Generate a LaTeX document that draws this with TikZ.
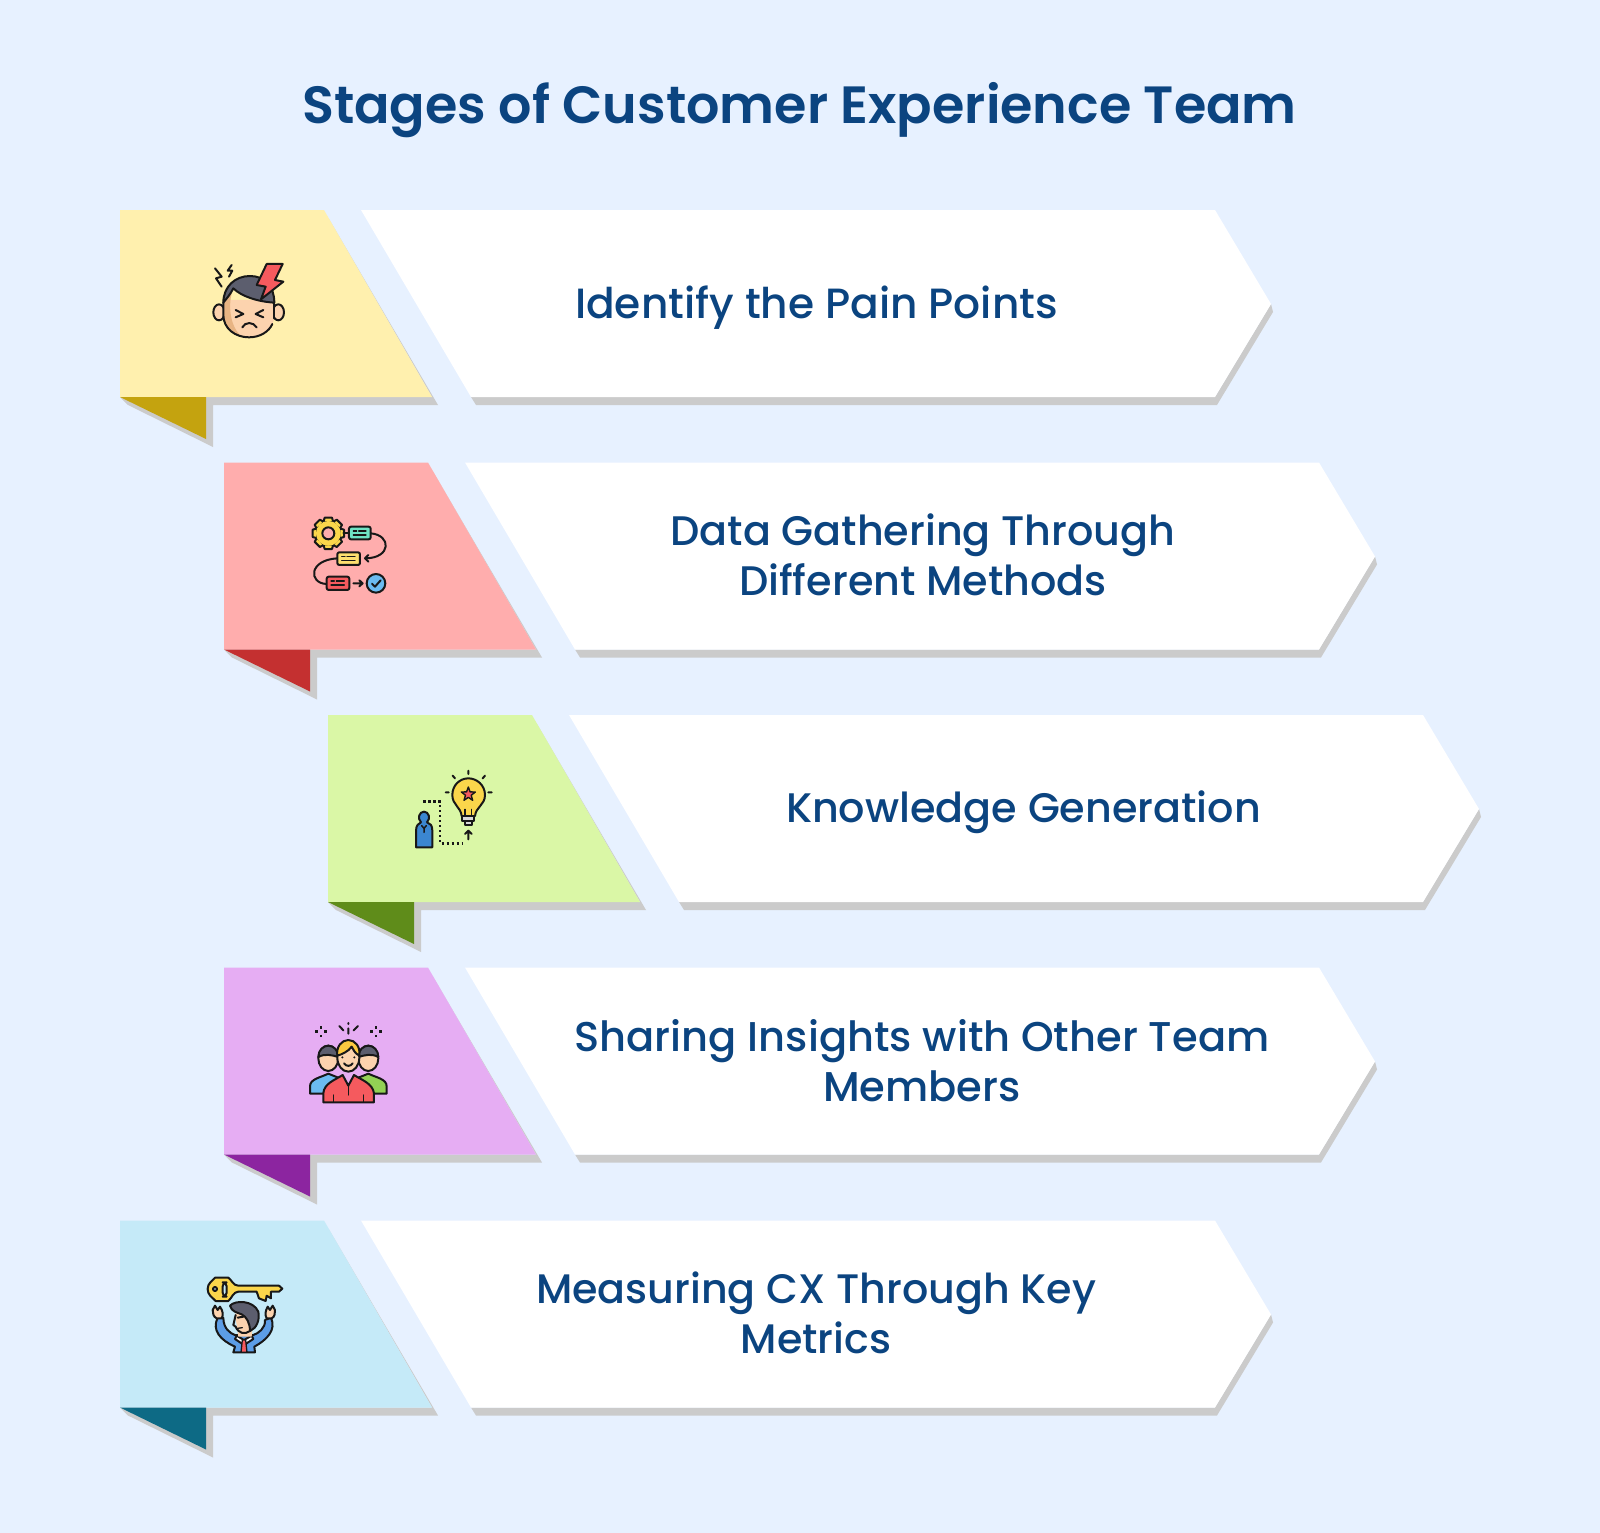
\documentclass[tikz,border=0pt]{standalone}
\usepackage{fontspec}
\newfontfamily\titlef{Poppins}[UprightFont=*-SemiBold]
\newfontfamily\bodyf{Poppins}[UprightFont=*-Medium]
\definecolor{bgc}{HTML}{E7F1FF}
\definecolor{ink}{HTML}{0B4480}
\definecolor{shadowc}{HTML}{CBCBCB}
\definecolor{ola}{HTML}{181818}
\definecolor{yfill}{HTML}{FFF0AE}\definecolor{yfold}{HTML}{C4A30F}
\definecolor{rfill}{HTML}{FFADAD}\definecolor{rfold}{HTML}{C43030}
\definecolor{gfill}{HTML}{DAF7A6}\definecolor{gfold}{HTML}{5F8C1A}
\definecolor{pfill}{HTML}{E6ADF3}\definecolor{pfold}{HTML}{8C25A0}
\definecolor{cfill}{HTML}{C5EAF8}\definecolor{cfold}{HTML}{0D6A85}
\definecolor{skin}{HTML}{FCD3AE}\definecolor{skind}{HTML}{E8B483}
\definecolor{hairc}{HTML}{5C5E6E}\definecolor{redi}{HTML}{F55A5E}
\definecolor{gold}{HTML}{FBD64B}\definecolor{teali}{HTML}{6FE3C4}
\definecolor{bluei}{HTML}{6BBBF0}\definecolor{deepb}{HTML}{3B86D0}
\definecolor{greeni}{HTML}{93D154}\definecolor{suit}{HTML}{5C9DE6}
\tikzset{
  ic/.style={draw=ola,line width=2pt,line join=round,line cap=round},
  dots/.style={draw=ola,line width=2.4pt,dash pattern=on 2.4pt off 2.6pt},
  label/.style={text=ink,align=center,inner sep=0pt},
  icon/.style={x=0.3333pt,y=-0.3333pt},
}
% #1 x shift, #2 y shift, #3 fill, #4 fold
\newcommand{\stagerow}[4]{%
 \begin{scope}[shift={(#1,#2)}]
  \fill[shadowc] (209,9) -- (318,195) -- (93,195) -- (93,237) -- (8,195) -- (0,187) -- (312,187) -- cycle;
  \fill[#3] (0,0) -- (204,0) -- (312,187) -- (0,187) -- cycle;
  \fill[#4] (0,187) -- (86,187) -- (86,229) -- cycle;
  \fill[shadowc] (356,195) -- (351,187) -- (1095,187) -- (1151,94) -- (1153,102) -- (1097,195) -- cycle;
  \fill[white] (241,0) -- (1095,0) -- (1151,94) -- (1095,187) -- (351,187) -- cycle;
 \end{scope}}
\begin{document}
\begin{tikzpicture}[x=1pt,y=-1pt]
\useasboundingbox (0,0) rectangle (1600,1533);
\fill[bgc] (0,0) rectangle (1600,1533);
\node[text=ink,inner sep=0pt,font=\titlef\fontsize{52.4}{60}\selectfont] (title) at (799.5,110) {Stages of Customer Experience Team};

\stagerow{120}{210}{yfill}{yfold}
\stagerow{224}{462.5}{rfill}{rfold}
\stagerow{328}{715}{gfill}{gfold}
\stagerow{224}{967.5}{pfill}{pfold}
\stagerow{120}{1220.5}{cfill}{cfold}

\node[label,font=\bodyf\fontsize{42.3}{50}\selectfont] (t1) at (816.5,308) {Identify the Pain Points};
\node[label,font=\bodyf\fontsize{41.3}{50}\selectfont] (t2) at (923,555) {Data Gathering Through\\Different Methods};
\node[label,font=\bodyf\fontsize{41.3}{50}\selectfont] (t3) at (1023.5,812) {Knowledge Generation};
\node[label,font=\bodyf\fontsize{41.6}{50}\selectfont] (t4) at (922,1060.5) {Sharing Insights with Other Team\\Members};
\node[label,font=\bodyf\fontsize{41.2}{50}\selectfont] (t5) at (816,1312.5) {Measuring CX Through Key\\Metrics};

% icon 1: headache
\begin{scope}[shift={(195,250)},icon]
 \draw[ic,fill=skin] (72,187) ellipse [x radius=17,y radius=24];
 \draw[ic,fill=skin] (250,187) ellipse [x radius=17,y radius=24];
 \fill[skin] (85,150) -- (238,150) -- (238,195) .. controls (238,235) and (205,262) .. (162,262) .. controls (120,262) and (85,235) .. (85,195) -- cycle;
 \fill[skind] (85,150) -- (110,130) .. controls (100,170) and (105,230) .. (140,260) .. controls (110,255) and (85,230) .. (85,195) -- cycle;
 \draw[ic,fill=hairc] (85,158) .. controls (85,110) and (120,78) .. (165,78) .. controls (210,78) and (238,110) .. (238,158) .. controls (190,155) and (140,140) .. (115,115) .. controls (105,135) and (95,145) .. (85,158) -- cycle;
 \draw[ic] (85,158) -- (85,195) .. controls (85,235) and (120,262) .. (162,262) .. controls (195,262) and (222,245) .. (232,222);
 \draw[ic] (238,158) -- (238,205);
 \draw[ic,fill=redi] (215,42) -- (263,42) -- (240,90) -- (265,95) -- (198,148) -- (212,110) -- (185,105) -- cycle;
 \draw[ic] (122,180) -- (145,192) -- (122,202);
 \draw[ic] (205,180) -- (182,192) -- (205,202);
 \draw[ic] (142,232) .. controls (150,215) and (175,215) .. (185,232);
 \draw[ic] (60,55) -- (80,80) -- (63,85) -- (80,110);
 \draw[ic] (110,45) -- (98,62) -- (112,62) -- (102,80);
\end{scope}

% icon 2: process
\begin{scope}[shift={(300,505)},icon]
 \draw[ic] (212,85) .. controls (275,90) and (275,160) .. (195,160);
 \draw[ic] (205,150) -- (195,160) -- (205,170);
 \draw[ic] (112,160) .. controls (25,165) and (25,235) .. (80,237);
 \draw[ic] (160,235) -- (188,235) (178,226) -- (188,235) -- (178,244);
 \draw[ic,fill=gold] (85,85) circle (38);
 \foreach \a in {0,45,...,315}
  \draw[ic,fill=gold,rotate around={\a:(85,85)}] (74,38) -- (96,38) -- (100,52) -- (70,52) -- cycle;
 \fill[gold] (85,85) circle (37);
 \draw[ic,fill=rfill] (85,85) circle (18);
 \draw[ic] (130,85) -- (147,85);
 \draw[ic,fill=teali,rounded corners=2pt] (147,65) rectangle (212,103);
 \draw[ic,line width=1.3pt] (160,78) -- (170,78) (160,90) -- (198,90) (176,78) -- (198,78);
 \draw[ic,fill=gold!80!white,rounded corners=2pt] (112,142) rectangle (180,180);
 \draw[ic,line width=1.3pt] (125,155) -- (135,155) (125,167) -- (165,167) (141,155) -- (165,155);
 \draw[ic,fill=redi,rounded corners=2pt] (80,215) rectangle (148,255);
 \draw[ic,line width=1.3pt] (93,228) -- (103,228) (93,240) -- (133,240) (109,228) -- (133,228);
 \draw[ic,fill=bluei] (228,235) circle (28);
 \draw[ic] (216,236) -- (225,245) -- (242,226);
\end{scope}

% icon 3: idea
\begin{scope}[shift={(405,760)},icon]
 \draw[dots] (55,125) -- (105,125) -- (105,250) -- (175,250);
 \draw[ic] (190,238) -- (190,212) (180,222) -- (190,212) -- (200,222);
 \draw[ic,fill=gold] (170,168) .. controls (167,140) and (142,135) .. (142,105) .. controls (142,75) and (165,55) .. (190,55) .. controls (215,55) and (240,75) .. (240,105) .. controls (240,135) and (213,140) .. (210,168) -- cycle;
 \draw[ic,fill=white!85!black] (172,168) rectangle (208,184);
 \draw[ic,fill=white!85!black] (180,184) rectangle (200,196);
 \draw[ic,line width=1.3pt] (180,168) -- (180,148) (200,168) -- (200,148);
 \draw[ic,fill=redi,line width=1.4pt] (190,81) -- (195.3,95.7) -- (211,96) -- (198.6,105.8) -- (203,121) -- (190,112) -- (177,121) -- (181.4,105.8) -- (169,96) -- (184.7,95.7) -- cycle;
 \draw[ic] (190,32) -- (190,42) (143,47) -- (150,55) (240,47) -- (233,55) (122,97) -- (131,97) (250,97) -- (260,97);
 \draw[ic,fill=deepb] (33,262) -- (33,212) .. controls (33,195) and (42,190) .. (48,187) .. controls (36,175) and (43,155) .. (57,155) .. controls (71,155) and (78,175) .. (66,187) .. controls (75,190) and (82,195) .. (82,212) -- (82,262) -- cycle;
 \draw[ic,line width=1.5pt] (50,197) -- (57,205) -- (64,197) (57,205) -- (57,217);
\end{scope}

% icon 4: team
\begin{scope}[shift={(300,1015)},icon]
 \foreach \cx in {63,228} {
  \fill[ola] (\cx-4,50-16) rectangle +(8,8);
  \fill[ola] (\cx-4,50+9) rectangle +(8,8);
  \fill[ola] (\cx-17,50-4) rectangle +(8,8);
  \fill[ola] (\cx+9,50-4) rectangle +(8,8);
 }
 \draw[ic] (145,24) -- (145,27) (145,40) -- (145,56) (118,33) -- (130,46) (174,33) -- (161,46);
 \draw[ic,fill=bluei] (30,236) -- (30,214) .. controls (30,192) and (60,188) .. (85,176) -- (120,190) -- (110,236) -- cycle;
 \draw[ic,fill=greeni] (260,236) -- (260,214) .. controls (260,192) and (230,188) .. (205,176) -- (170,190) -- (180,236) -- cycle;
 \draw[ic,fill=skin] (85,130) ellipse [x radius=30,y radius=38];
 \draw[ic,fill=hairc] (55,126) .. controls (55,105) and (70,92) .. (85,92) .. controls (100,92) and (115,105) .. (115,126) .. controls (95,120) and (75,115) .. (55,126) -- cycle;
 \draw[ic,fill=skin] (205,130) ellipse [x radius=30,y radius=38];
 \draw[ic,fill=hairc] (175,126) .. controls (175,105) and (190,92) .. (205,92) .. controls (220,92) and (235,105) .. (235,126) .. controls (215,115) and (195,120) .. (175,126) -- cycle;
 \draw[ic,fill=redi] (70,262) -- (70,235) .. controls (72,205) and (105,195) .. (128,180) -- (145,212) -- (162,180) .. controls (185,195) and (218,205) .. (222,235) -- (222,262) -- cycle;
 \draw[ic,fill=skin] (145,128) ellipse [x radius=33,y radius=42];
 \draw[ic,fill=gold!85!orange] (112,122) .. controls (108,95) and (125,75) .. (145,75) .. controls (165,75) and (182,95) .. (178,122) .. controls (165,115) and (160,105) .. (155,95) .. controls (145,110) and (125,118) .. (112,122) -- cycle;
 \draw[ic] (132,145) .. controls (138,155) and (152,155) .. (158,145);
 \fill[ola] (127,127) circle (3.5) (163,127) circle (3.5);
 \draw[ic,line width=1.3pt] (145,212) -- (145,240) (100,262) -- (100,240) (190,262) -- (190,240);
\end{scope}

% icon 5: key
\begin{scope}[shift={(195,1265)},icon]
 \draw[ic,fill=gold] (38,72) .. controls (38,55) and (50,50) .. (60,38) -- (100,38) .. controls (110,45) and (115,62) .. (130,62) -- (252,62) -- (262,71) -- (252,80) -- (228,80) -- (228,100) -- (215,92) -- (212,108) -- (192,100) -- (185,80) -- (130,80) .. controls (115,80) and (110,100) .. (100,108) -- (62,108) .. controls (50,95) and (38,90) .. (38,72) -- cycle;
 \draw[ic,fill=cfill] (60,72) circle (6);
 \draw[ic,fill=cfill,rounded corners=4pt] (83,52) rectangle (95,95);
 \draw[ic,fill=suit] (68,158) .. controls (50,195) and (75,225) .. (120,245) -- (115,262) -- (180,262) -- (178,245) .. controls (215,225) and (245,195) .. (228,158) -- (210,165) .. controls (212,190) and (190,205) .. (175,210) -- (120,210) .. controls (105,205) and (85,190) .. (85,158) -- cycle;
 \draw[ic,fill=white] (125,212) -- (147,225) -- (170,212) -- (175,222) -- (147,240) -- (120,222) -- cycle;
 \draw[ic,fill=redi,line width=1.3pt] (142,225) -- (152,225) -- (156,262) -- (138,262) -- cycle;
 \draw[ic,fill=skin] (53,135) -- (60,122) -- (68,135) -- (75,125) .. controls (85,140) and (85,150) .. (80,160) -- (65,160) .. controls (55,155) and (53,145) .. (53,135) -- cycle;
 \draw[ic,fill=skin] (240,135) -- (233,122) -- (225,135) -- (218,125) .. controls (210,140) and (210,150) .. (215,160) -- (230,160) .. controls (240,155) and (240,145) .. (240,135) -- cycle;
 \fill[skin] (120,145) -- (175,150) -- (170,215) -- (130,215) -- cycle;
 \draw[ic] (122,150) -- (115,180) -- (122,185) .. controls (130,205) and (150,210) .. (165,198);
 \draw[ic] (128,158) -- (145,155);
 \draw[ic,line width=1.3pt] (128,190) -- (142,188);
 \draw[ic,fill=hairc] (105,122) .. controls (120,105) and (175,105) .. (190,140) .. controls (195,165) and (185,190) .. (165,198) .. controls (165,175) and (155,155) .. (140,148) .. controls (125,142) and (110,140) .. (105,122) -- cycle;
\end{scope}
\end{tikzpicture}
\end{document}
